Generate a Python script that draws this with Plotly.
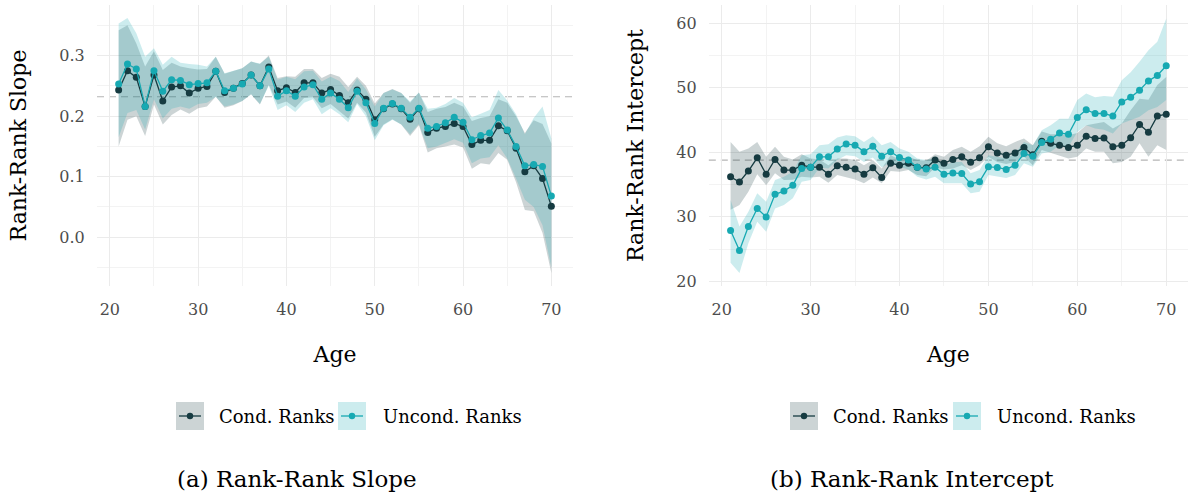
import plotly.graph_objects as go

# ---------------- data ----------------
ages = list(range(21, 71))

slope_cond = [0.243, 0.275, 0.264, 0.216, 0.268, 0.225, 0.248, 0.250, 0.238, 0.246,
              0.249, 0.274, 0.239, 0.246, 0.254, 0.268, 0.250, 0.281, 0.242, 0.247,
              0.239, 0.255, 0.255, 0.238, 0.244, 0.234, 0.222, 0.243, 0.228, 0.194,
              0.212, 0.220, 0.212, 0.195, 0.212, 0.173, 0.180, 0.183, 0.188, 0.183,
              0.153, 0.160, 0.160, 0.184, 0.176, 0.147, 0.108, 0.118, 0.097, 0.051]
slope_cond_lo = [0.150, 0.194, 0.200, 0.167, 0.219, 0.186, 0.202, 0.211, 0.204, 0.213,
                 0.216, 0.232, 0.214, 0.218, 0.225, 0.236, 0.219, 0.252, 0.219, 0.224,
                 0.214, 0.230, 0.231, 0.213, 0.220, 0.208, 0.196, 0.222, 0.206, 0.166,
                 0.186, 0.195, 0.186, 0.167, 0.185, 0.140, 0.147, 0.150, 0.153, 0.148,
                 0.113, 0.122, 0.120, 0.139, 0.128, 0.091, 0.045, 0.043, 0.007, -0.059]
slope_cond_hi = [0.342, 0.350, 0.320, 0.282, 0.307, 0.276, 0.288, 0.282, 0.279, 0.277,
                 0.278, 0.298, 0.270, 0.274, 0.279, 0.290, 0.286, 0.300, 0.263, 0.266,
                 0.265, 0.278, 0.278, 0.263, 0.270, 0.265, 0.248, 0.265, 0.250, 0.221,
                 0.238, 0.245, 0.238, 0.222, 0.239, 0.207, 0.212, 0.215, 0.222, 0.216,
                 0.192, 0.197, 0.200, 0.228, 0.222, 0.200, 0.172, 0.193, 0.187, 0.155]

slope_uncond = [0.253, 0.286, 0.278, 0.216, 0.275, 0.241, 0.260, 0.259, 0.252, 0.254,
                0.255, 0.274, 0.242, 0.246, 0.253, 0.268, 0.250, 0.278, 0.233, 0.242,
                0.233, 0.248, 0.252, 0.228, 0.238, 0.228, 0.214, 0.241, 0.222, 0.188,
                0.213, 0.221, 0.213, 0.198, 0.213, 0.180, 0.183, 0.189, 0.198, 0.190,
                0.161, 0.168, 0.172, 0.197, 0.177, 0.150, 0.118, 0.120, 0.117, 0.068]
slope_uncond_lo = [0.165, 0.205, 0.210, 0.178, 0.228, 0.196, 0.212, 0.216, 0.212, 0.220,
                   0.222, 0.232, 0.216, 0.219, 0.225, 0.236, 0.220, 0.250, 0.210, 0.218,
                   0.207, 0.222, 0.228, 0.203, 0.213, 0.203, 0.190, 0.220, 0.200, 0.160,
                   0.185, 0.194, 0.186, 0.170, 0.187, 0.147, 0.150, 0.156, 0.162, 0.156,
                   0.122, 0.130, 0.132, 0.152, 0.130, 0.097, 0.062, 0.050, 0.020, -0.050]
slope_uncond_hi = [0.353, 0.362, 0.337, 0.298, 0.312, 0.285, 0.298, 0.288, 0.286, 0.285,
                   0.282, 0.298, 0.271, 0.275, 0.279, 0.290, 0.287, 0.298, 0.260, 0.265,
                   0.261, 0.274, 0.275, 0.257, 0.265, 0.258, 0.240, 0.262, 0.244, 0.216,
                   0.238, 0.244, 0.238, 0.224, 0.239, 0.212, 0.214, 0.220, 0.230, 0.222,
                   0.198, 0.204, 0.210, 0.243, 0.226, 0.203, 0.170, 0.197, 0.216, 0.163]

int_cond = [36.2, 35.4, 37.1, 39.15, 36.6, 38.9, 37.25, 37.25, 38.0, 37.7,
            37.7, 36.6, 37.9, 37.7, 37.4, 36.6, 37.6, 36.1, 38.3, 38.0,
            38.3, 37.7, 37.6, 38.8, 38.3, 38.9, 39.3, 38.45, 39.15, 40.85,
            39.9, 39.55, 39.9, 40.75, 39.6, 41.7, 41.4, 41.1, 40.75, 41.1,
            42.5, 42.15, 42.2, 40.85, 41.1, 42.25, 44.3, 43.1, 45.6, 45.9]
int_cond_lo = [31.1, 31.85, 33.9, 36.6, 34.9, 36.75, 35.7, 35.75, 36.2, 36.1,
               36.2, 35.3, 36.5, 36.2, 35.8, 35.2, 36.1, 35.2, 37.1, 37.0,
               37.25, 36.5, 36.3, 37.65, 37.35, 37.5, 38.0, 37.25, 38.0, 39.3,
               38.5, 38.2, 38.5, 39.3, 38.0, 40.35, 39.9, 39.55, 39.05, 39.3,
               40.6, 40.1, 40.1, 38.3, 38.5, 39.3, 41.4, 39.3, 41.1, 40.35]
int_cond_hi = [41.6, 40.1, 40.6, 41.6, 39.3, 40.85, 39.3, 38.9, 39.7, 39.05,
               38.9, 38.0, 39.05, 39.05, 38.8, 38.0, 38.8, 37.5, 39.55, 38.9,
               39.3, 38.8, 38.7, 39.7, 39.3, 40.35, 40.85, 40.1, 40.95, 42.4,
               41.4, 40.95, 41.6, 42.15, 41.1, 43.2, 42.8, 42.8, 42.65, 43.0,
               44.2, 44.45, 44.7, 43.7, 44.45, 46.5, 48.3, 48.15, 50.4, 51.65]

int_uncond = [27.9, 24.8, 28.5, 31.3, 30.0, 33.5, 34.0, 34.9, 37.5, 37.7,
              39.3, 39.3, 40.5, 41.3, 41.1, 40.1, 40.95, 39.4, 40.1, 39.2,
              38.8, 37.7, 37.4, 37.7, 36.6, 36.8, 36.7, 35.1, 35.45, 37.75,
              37.65, 37.35, 38.0, 39.8, 39.4, 41.5, 42.0, 43.0, 42.8, 45.4,
              46.6, 46.0, 46.0, 45.6, 47.8, 48.5, 49.6, 51.05, 51.9, 53.4]
int_uncond_lo = [22.9, 21.3, 25.9, 29.25, 27.7, 31.3, 31.85, 32.9, 35.45, 35.7,
                 37.65, 37.5, 38.8, 39.55, 39.4, 38.5, 39.2, 37.65, 38.5, 37.75,
                 37.35, 36.2, 35.8, 36.2, 35.2, 35.2, 35.2, 33.65, 33.9, 36.5,
                 36.2, 36.0, 36.5, 38.3, 37.75, 39.8, 40.1, 41.1, 40.85, 43.15,
                 44.2, 43.7, 43.5, 42.9, 44.45, 45.0, 45.5, 46.5, 47.0, 48.1]
int_uncond_hi = [32.6, 28.5, 30.8, 33.65, 32.35, 35.7, 36.2, 37.0, 39.55, 39.7,
                 41.1, 41.25, 42.3, 42.65, 42.5, 41.6, 42.5, 41.1, 41.6, 40.6,
                 40.1, 39.05, 38.8, 39.05, 38.0, 38.5, 38.5, 36.75, 37.25, 39.55,
                 39.3, 39.05, 39.8, 41.6, 41.1, 43.4, 44.2, 45.2, 45.2, 48.1,
                 49.1, 48.5, 48.7, 48.6, 51.15, 52.4, 54.0, 55.8, 57.1, 60.7]

ref_slope = 0.232
ref_intercept = 38.8

x_ticks = [20, 30, 40, 50, 60, 70]
slope_ticks = [0.0, 0.1, 0.2, 0.3]
int_ticks = [20, 30, 40, 50, 60]

series_names = ["Cond. Ranks", "Uncond. Ranks"]
captions = ["(a) Rank-Rank Slope", "(b) Rank-Rank Intercept"]
y_titles = ["Rank-Rank Slope", "Rank-Rank Intercept"]

# ---------------- style ----------------
DARK = "#163b41"
TEAL = "#17a9b2"
ALPHA = 0.22
FONT = "DejaVu Serif"
TICKCOL = "#4d4d4d"
GRID = "#ebebeb"
GRID_MINOR = "#f3f3f3"


def rgba(hx, a):
    h = hx.lstrip("#")
    r, g, b = int(h[0:2], 16), int(h[2:4], 16), int(h[4:6], 16)
    return f"rgba({r},{g},{b},{a})"


W, H = 1194, 503
ML, MR, MT, MB = 97, 6, 5, 217
PW = W - ML - MR
PH = H - MT - MB


def pxx(px):
    return (px - ML) / PW


def pxy(py):
    return (H - MB - py) / PH


fig = go.Figure()


def add_panel(xa, ya, cond, cond_lo, cond_hi, unc, unc_lo, unc_hi):
    for lo, hi, col in [(cond_lo, cond_hi, DARK), (unc_lo, unc_hi, TEAL)]:
        fig.add_trace(go.Scatter(x=ages, y=lo, mode="lines", line=dict(width=0, color=col),
                                 hoverinfo="skip", showlegend=False, xaxis=xa, yaxis=ya))
        fig.add_trace(go.Scatter(x=ages, y=hi, mode="lines", line=dict(width=0, color=col),
                                 fill="tonexty", fillcolor=rgba(col, ALPHA),
                                 hoverinfo="skip", showlegend=False, xaxis=xa, yaxis=ya))
    for y, col, nm in [(cond, DARK, series_names[0]), (unc, TEAL, series_names[1])]:
        fig.add_trace(go.Scatter(x=ages, y=y, mode="lines+markers", name=nm,
                                 line=dict(color=col, width=1.3),
                                 marker=dict(color=col, size=7),
                                 showlegend=False, xaxis=xa, yaxis=ya))


add_panel("x", "y", slope_cond, slope_cond_lo, slope_cond_hi,
          slope_uncond, slope_uncond_lo, slope_uncond_hi)
add_panel("x2", "y2", int_cond, int_cond_lo, int_cond_hi,
          int_uncond, int_uncond_lo, int_uncond_hi)

xr = [ages[0] - 0.05 * (ages[-1] - ages[0]), ages[-1] + 0.05 * (ages[-1] - ages[0])]


def xaxis_cfg(domain):
    return dict(domain=domain, range=xr, tickvals=x_ticks, showgrid=True, gridcolor=GRID,
                gridwidth=1.1, zeroline=False, showline=False,
                ticks="outside", ticklen=9, tickcolor="rgba(0,0,0,0)",
                tickfont=dict(family=FONT, size=16, color=TICKCOL),
                minor=dict(dtick=5, tick0=0, showgrid=True, gridcolor=GRID_MINOR, gridwidth=0.7,
                           ticks=""),
                title=dict(text="Age", font=dict(family=FONT, size=22, color="black"), standoff=28))


def yaxis_cfg(anchor, rng, tickvals, fmt, minor_dtick, title):
    return dict(anchor=anchor, domain=[0, 1], range=rng, tickvals=tickvals, tickformat=fmt,
                showgrid=True, gridcolor=GRID, gridwidth=1.1, zeroline=False, showline=False,
                ticks="outside", ticklen=8, tickcolor="rgba(0,0,0,0)",
                tickfont=dict(family=FONT, size=16, color=TICKCOL),
                minor=dict(dtick=minor_dtick, tick0=0, showgrid=True, gridcolor=GRID_MINOR,
                           gridwidth=0.7, ticks=""),
                title=dict(text=title, font=dict(family=FONT, size=22, color="black"), standoff=26))


x1_dom = [0, pxx(573)]
x2_dom = [pxx(708.8), 1.0]

fig.update_layout(
    width=W, height=H,
    margin=dict(l=ML, r=MR, t=MT, b=MB),
    paper_bgcolor="white", plot_bgcolor="white",
    font=dict(family=FONT, color="black"),
    xaxis=xaxis_cfg(x1_dom),
    xaxis2=xaxis_cfg(x2_dom),
    yaxis=yaxis_cfg("x", [-0.0805, 0.3835], slope_ticks, ".1f", 0.05, y_titles[0]),
    yaxis2=yaxis_cfg("x2", [19.3, 62.8], int_ticks, "d", 5, y_titles[1]),
    showlegend=False,
)

# reference dashed lines
for xref, yref, val in [("x domain", "y", ref_slope), ("x2 domain", "y2", ref_intercept)]:
    fig.add_shape(type="line", xref=xref, yref=yref, x0=0, x1=1, y0=val, y1=val,
                  line=dict(color="#b5b5b5", width=1.2, dash="7px,5px"), layer="below")

# manual legends (key boxes + labels) under each panel
legend_rows = [
    # (box_left_px, text_left_px) for each entry
    [(176, 217), (338, 381)],
    [(790, 831), (953, 995)],
]
LEG_Y = 416
BOX = 28
for row in legend_rows:
    for (bx, tx), col, nm in zip(row, [DARK, TEAL], series_names):
        fig.add_shape(type="rect", xref="paper", yref="paper",
                      x0=pxx(bx), x1=pxx(bx + BOX), y0=pxy(LEG_Y + BOX / 2), y1=pxy(LEG_Y - BOX / 2),
                      fillcolor=rgba(col, ALPHA), line=dict(width=0), layer="above")
        fig.add_shape(type="line", xref="paper", yref="paper",
                      x0=pxx(bx + 3), x1=pxx(bx + BOX - 3), y0=pxy(LEG_Y), y1=pxy(LEG_Y),
                      line=dict(color=col, width=1.3), layer="above")
        r = 3.2
        cx = bx + BOX / 2
        fig.add_shape(type="circle", xref="paper", yref="paper",
                      x0=pxx(cx - r), x1=pxx(cx + r), y0=pxy(LEG_Y + r), y1=pxy(LEG_Y - r),
                      fillcolor=col, line=dict(width=0), layer="above")
        fig.add_annotation(text=nm, xref="paper", yref="paper", x=pxx(tx), y=pxy(LEG_Y),
                           xanchor="left", yanchor="middle", showarrow=False,
                           font=dict(family=FONT, size=18, color="black"))

# captions
for cap, cx in zip(captions, [296.5, 911.7]):
    fig.add_annotation(text=cap, xref="paper", yref="paper", x=pxx(cx), y=pxy(479),
                       xanchor="center", yanchor="middle", showarrow=False,
                       font=dict(family=FONT, size=23, color="black"))

fig.write_html("out.html")
